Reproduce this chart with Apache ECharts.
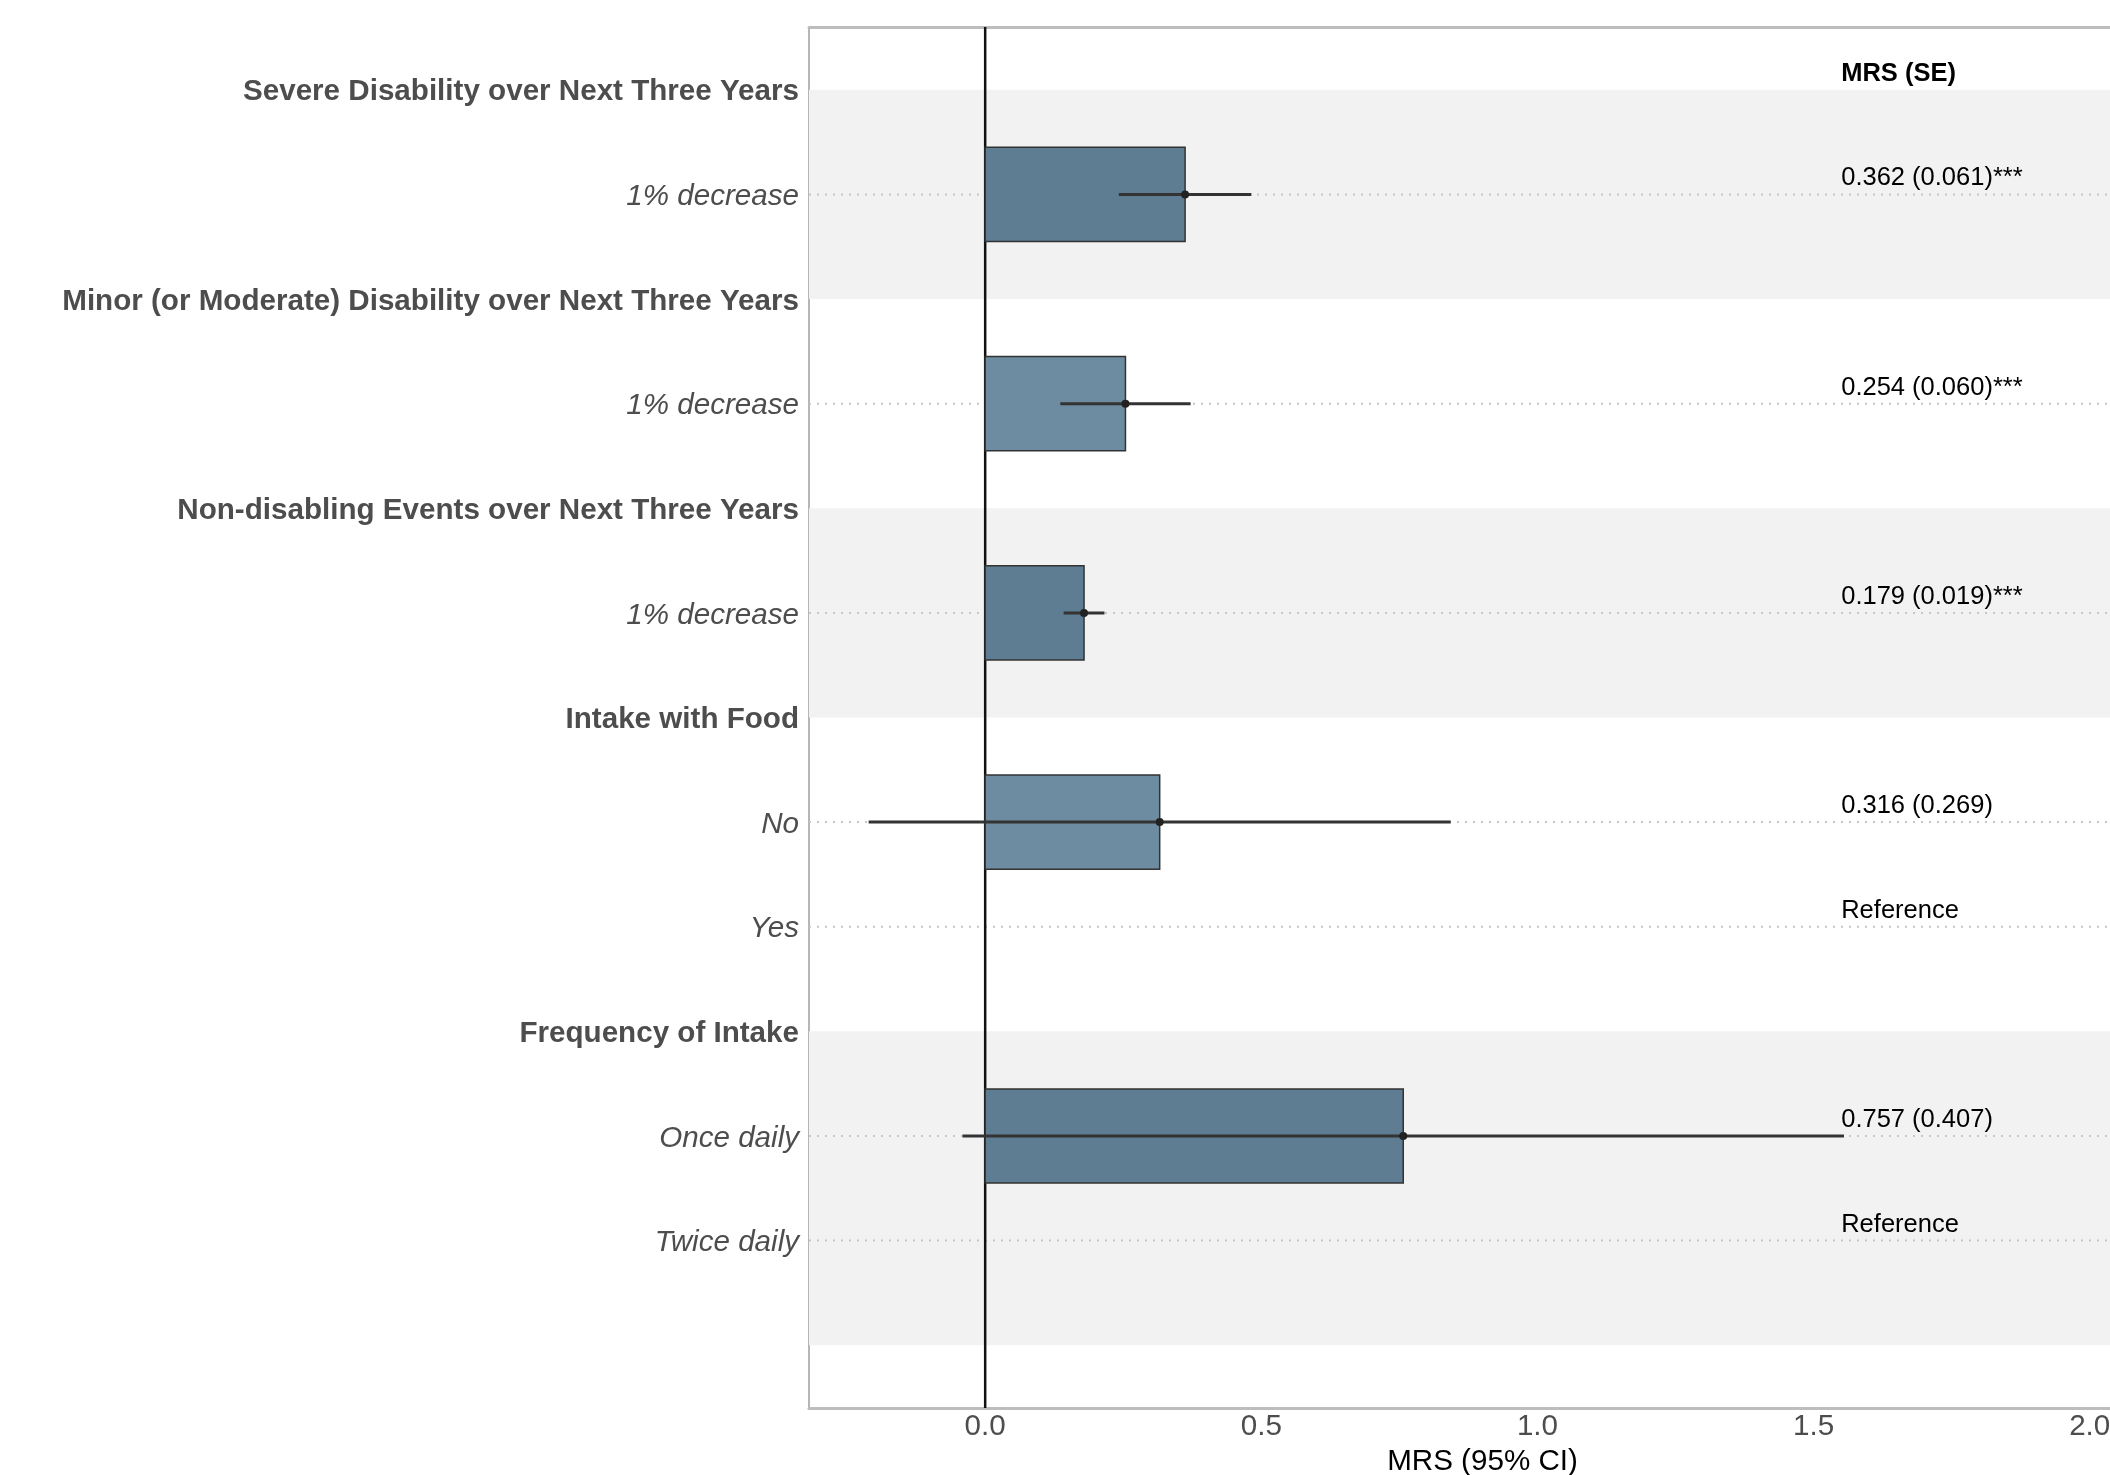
<!DOCTYPE html>
<html>
<head>
<meta charset="utf-8">
<script src="https://cdn.jsdelivr.net/npm/echarts@6/dist/echarts.min.js"></script>
<style>
  html, body { margin: 0; padding: 0; background: #ffffff; overflow: hidden; }
  #chart { width: 2110px; height: 1475px; }
</style>
</head>
<body>
<div id="chart"></div>
<script>
// Row labels, top to bottom (row position = index + 1); the last row is a blank spacer
const rowLabels = [
  'Severe Disability over Next Three Years',
  '1% decrease',
  'Minor (or Moderate) Disability over Next Three Years',
  '1% decrease',
  'Non-disabling Events over Next Three Years',
  '1% decrease',
  'Intake with Food',
  'No',
  'Yes',
  'Frequency of Intake',
  'Once daily',
  'Twice daily',
  ''
];
const headerRows = [1, 3, 5, 7, 10];

// Estimates (MRS) with 95% confidence limits
const barRows = [2, 4, 6, 8, 11];
const mrs     = [0.362, 0.254, 0.179, 0.316, 0.757];
const ciLow   = [0.242, 0.136, 0.142, -0.211, -0.041];
const ciHigh  = [0.482, 0.372, 0.216, 0.843, 1.555];
const barColors = ['#5f7d92', '#6d8ba1', '#5f7d92', '#6d8ba1', '#5f7d92'];

// Dotted guide lines under the level rows
const guideRows = [2, 4, 6, 8, 9, 11, 12];

// Shaded attribute blocks (from row, to row)
const bandStart = [1, 5, 10];
const bandEnd   = [3, 7, 13];

// Right-hand column of MRS (SE) values
const noteRows  = [1, 2, 4, 6, 8, 9, 11, 12];
const noteTexts = ['MRS (SE)', '0.362 (0.061)***', '0.254 (0.060)***', '0.179 (0.019)***',
                   '0.316 (0.269)', 'Reference', '0.757 (0.407)', 'Reference'];
const noteX = 1.55;

// X axis ticks
const xTicks      = [0, 0.5, 1.0, 1.5, 2.0];
const xTickLabels = ['0.0', '0.5', '1.0', '1.5', '2.0'];

const xMin = -0.319, xMax = 2.12;
const yMin = 0.4, yMax = 13.6;
const FONT = '"Liberation Sans", Arial, Helvetica, sans-serif';
const AXIS_FS = 29.6;

const chart = echarts.init(document.getElementById('chart'), null, { renderer: 'canvas' });

const option = {
  animation: false,
  backgroundColor: '#ffffff',
  grid: { left: 809, top: 27, width: 1347, height: 1381, containLabel: false, outerBoundsMode: 'none' },
  xAxis: [
    {
      type: 'value', min: xMin, max: xMax, position: 'bottom',
      axisLine: { show: true, onZero: false, lineStyle: { color: '#bdbdbd', width: 3 } },
      axisTick: { show: false },
      splitLine: { show: false },
      axisLabel: {
        customValues: xTicks,
        formatter: v => xTickLabels[xTicks.indexOf(Math.round(v * 10) / 10)] ?? '',
        fontFamily: FONT, fontSize: AXIS_FS, color: '#4d4d4d', margin: 4
      },
      name: 'MRS (95% CI)', nameLocation: 'middle', nameGap: 36,
      nameTextStyle: { fontFamily: FONT, fontSize: AXIS_FS, color: '#000000' }
    },
    {
      type: 'value', min: xMin, max: xMax, position: 'top',
      axisLine: { show: true, onZero: false, lineStyle: { color: '#bdbdbd', width: 3 } },
      axisTick: { show: false }, axisLabel: { show: false }, splitLine: { show: false }
    }
  ],
  yAxis: {
    type: 'value', inverse: true, min: yMin, max: yMax,
    axisLine: { show: true, onZero: false, lineStyle: { color: '#9e9e9e', width: 1.5 } },
    axisTick: { show: false },
    splitLine: { show: false },
    axisLabel: {
      customValues: rowLabels.map((_, i) => i + 1).slice(0, 12),
      margin: 10,
      formatter: v => {
        const label = rowLabels[Math.round(v) - 1] || '';
        return headerRows.includes(Math.round(v)) ? '{h|' + label + '}' : '{i|' + label + '}';
      },
      rich: {
        h: { fontFamily: FONT, fontSize: AXIS_FS, fontWeight: 'bold', color: '#4d4d4d', padding: [5, 0, 0, 0] },
        i: { fontFamily: FONT, fontSize: AXIS_FS, fontStyle: 'italic', color: '#4d4d4d', padding: [5, 0, 0, 0] }
      }
    }
  },
  series: [
    {
      // shaded blocks
      type: 'custom', z: 1, silent: true,
      data: bandStart.map((s, i) => [s, bandEnd[i]]),
      encode: { y: [0, 1] },
      renderItem: (params, api) => {
        const a = api.coord([xMin, api.value(0)]);
        const b = api.coord([xMax, api.value(1)]);
        return { type: 'rect', shape: { x: a[0], y: a[1], width: b[0] - a[0], height: b[1] - a[1] },
                 style: { fill: '#f2f2f2' } };
      }
    },
    {
      // dotted guides
      type: 'custom', z: 2, silent: true,
      data: guideRows.map(r => [r]),
      encode: { y: 0 },
      renderItem: (params, api) => {
        const a = api.coord([xMin, api.value(0)]);
        const b = api.coord([xMax, api.value(0)]);
        return { type: 'line', shape: { x1: a[0], y1: a[1], x2: b[0], y2: b[1] },
                 style: { stroke: '#c6c6c6', lineWidth: 2, lineDash: [2, 6] } };
      }
    },
    {
      // vertical reference line at zero
      type: 'custom', z: 3, silent: true,
      data: [[0]],
      encode: { x: 0 },
      renderItem: (params, api) => {
        const a = api.coord([api.value(0), yMin]);
        const b = api.coord([api.value(0), yMax]);
        return { type: 'line', shape: { x1: a[0], y1: a[1], x2: b[0], y2: b[1] },
                 style: { stroke: '#111111', lineWidth: 2.5 } };
      }
    },
    {
      // bars
      type: 'custom', z: 4,
      data: barRows.map((r, i) => [mrs[i], r, i]),
      encode: { x: 0, y: 1 },
      renderItem: (params, api) => {
        const a = api.coord([0, api.value(1)]);
        const b = api.coord([api.value(0), api.value(1)]);
        const h = api.size([0, 0.9])[1];
        return { type: 'rect', shape: { x: a[0], y: a[1] - h / 2, width: b[0] - a[0], height: h },
                 style: { fill: barColors[api.value(2)], stroke: '#333333', lineWidth: 1.5 } };
      }
    },
    {
      // confidence intervals with point estimates
      type: 'custom', z: 5,
      data: barRows.map((r, i) => [ciLow[i], ciHigh[i], r, mrs[i]]),
      encode: { x: [0, 1], y: 2 },
      renderItem: (params, api) => {
        const a = api.coord([api.value(0), api.value(2)]);
        const b = api.coord([api.value(1), api.value(2)]);
        const c = api.coord([api.value(3), api.value(2)]);
        return { type: 'group', children: [
          { type: 'line', shape: { x1: a[0], y1: a[1], x2: b[0], y2: b[1] },
            style: { stroke: '#333333', lineWidth: 3 } },
          { type: 'circle', shape: { cx: c[0], cy: c[1], r: 4 },
            style: { fill: '#222222' } }
        ] };
      }
    },
    {
      // MRS (SE) column
      type: 'custom', z: 6, silent: true,
      data: noteRows.map((r, i) => [noteX, r, i]),
      encode: { x: 0, y: 1 },
      renderItem: (params, api) => {
        const p = api.coord([api.value(0), api.value(1)]);
        const idx = api.value(2);
        return { type: 'text', x: p[0], y: p[1] - 3,
                 style: { text: noteTexts[idx], fontFamily: FONT, fontSize: 25.5,
                          fontWeight: idx === 0 ? 'bold' : 'normal', fill: '#000000',
                          align: 'left', verticalAlign: 'bottom' } };
      }
    }
  ]
};

chart.setOption(option);
</script>
</body>
</html>
